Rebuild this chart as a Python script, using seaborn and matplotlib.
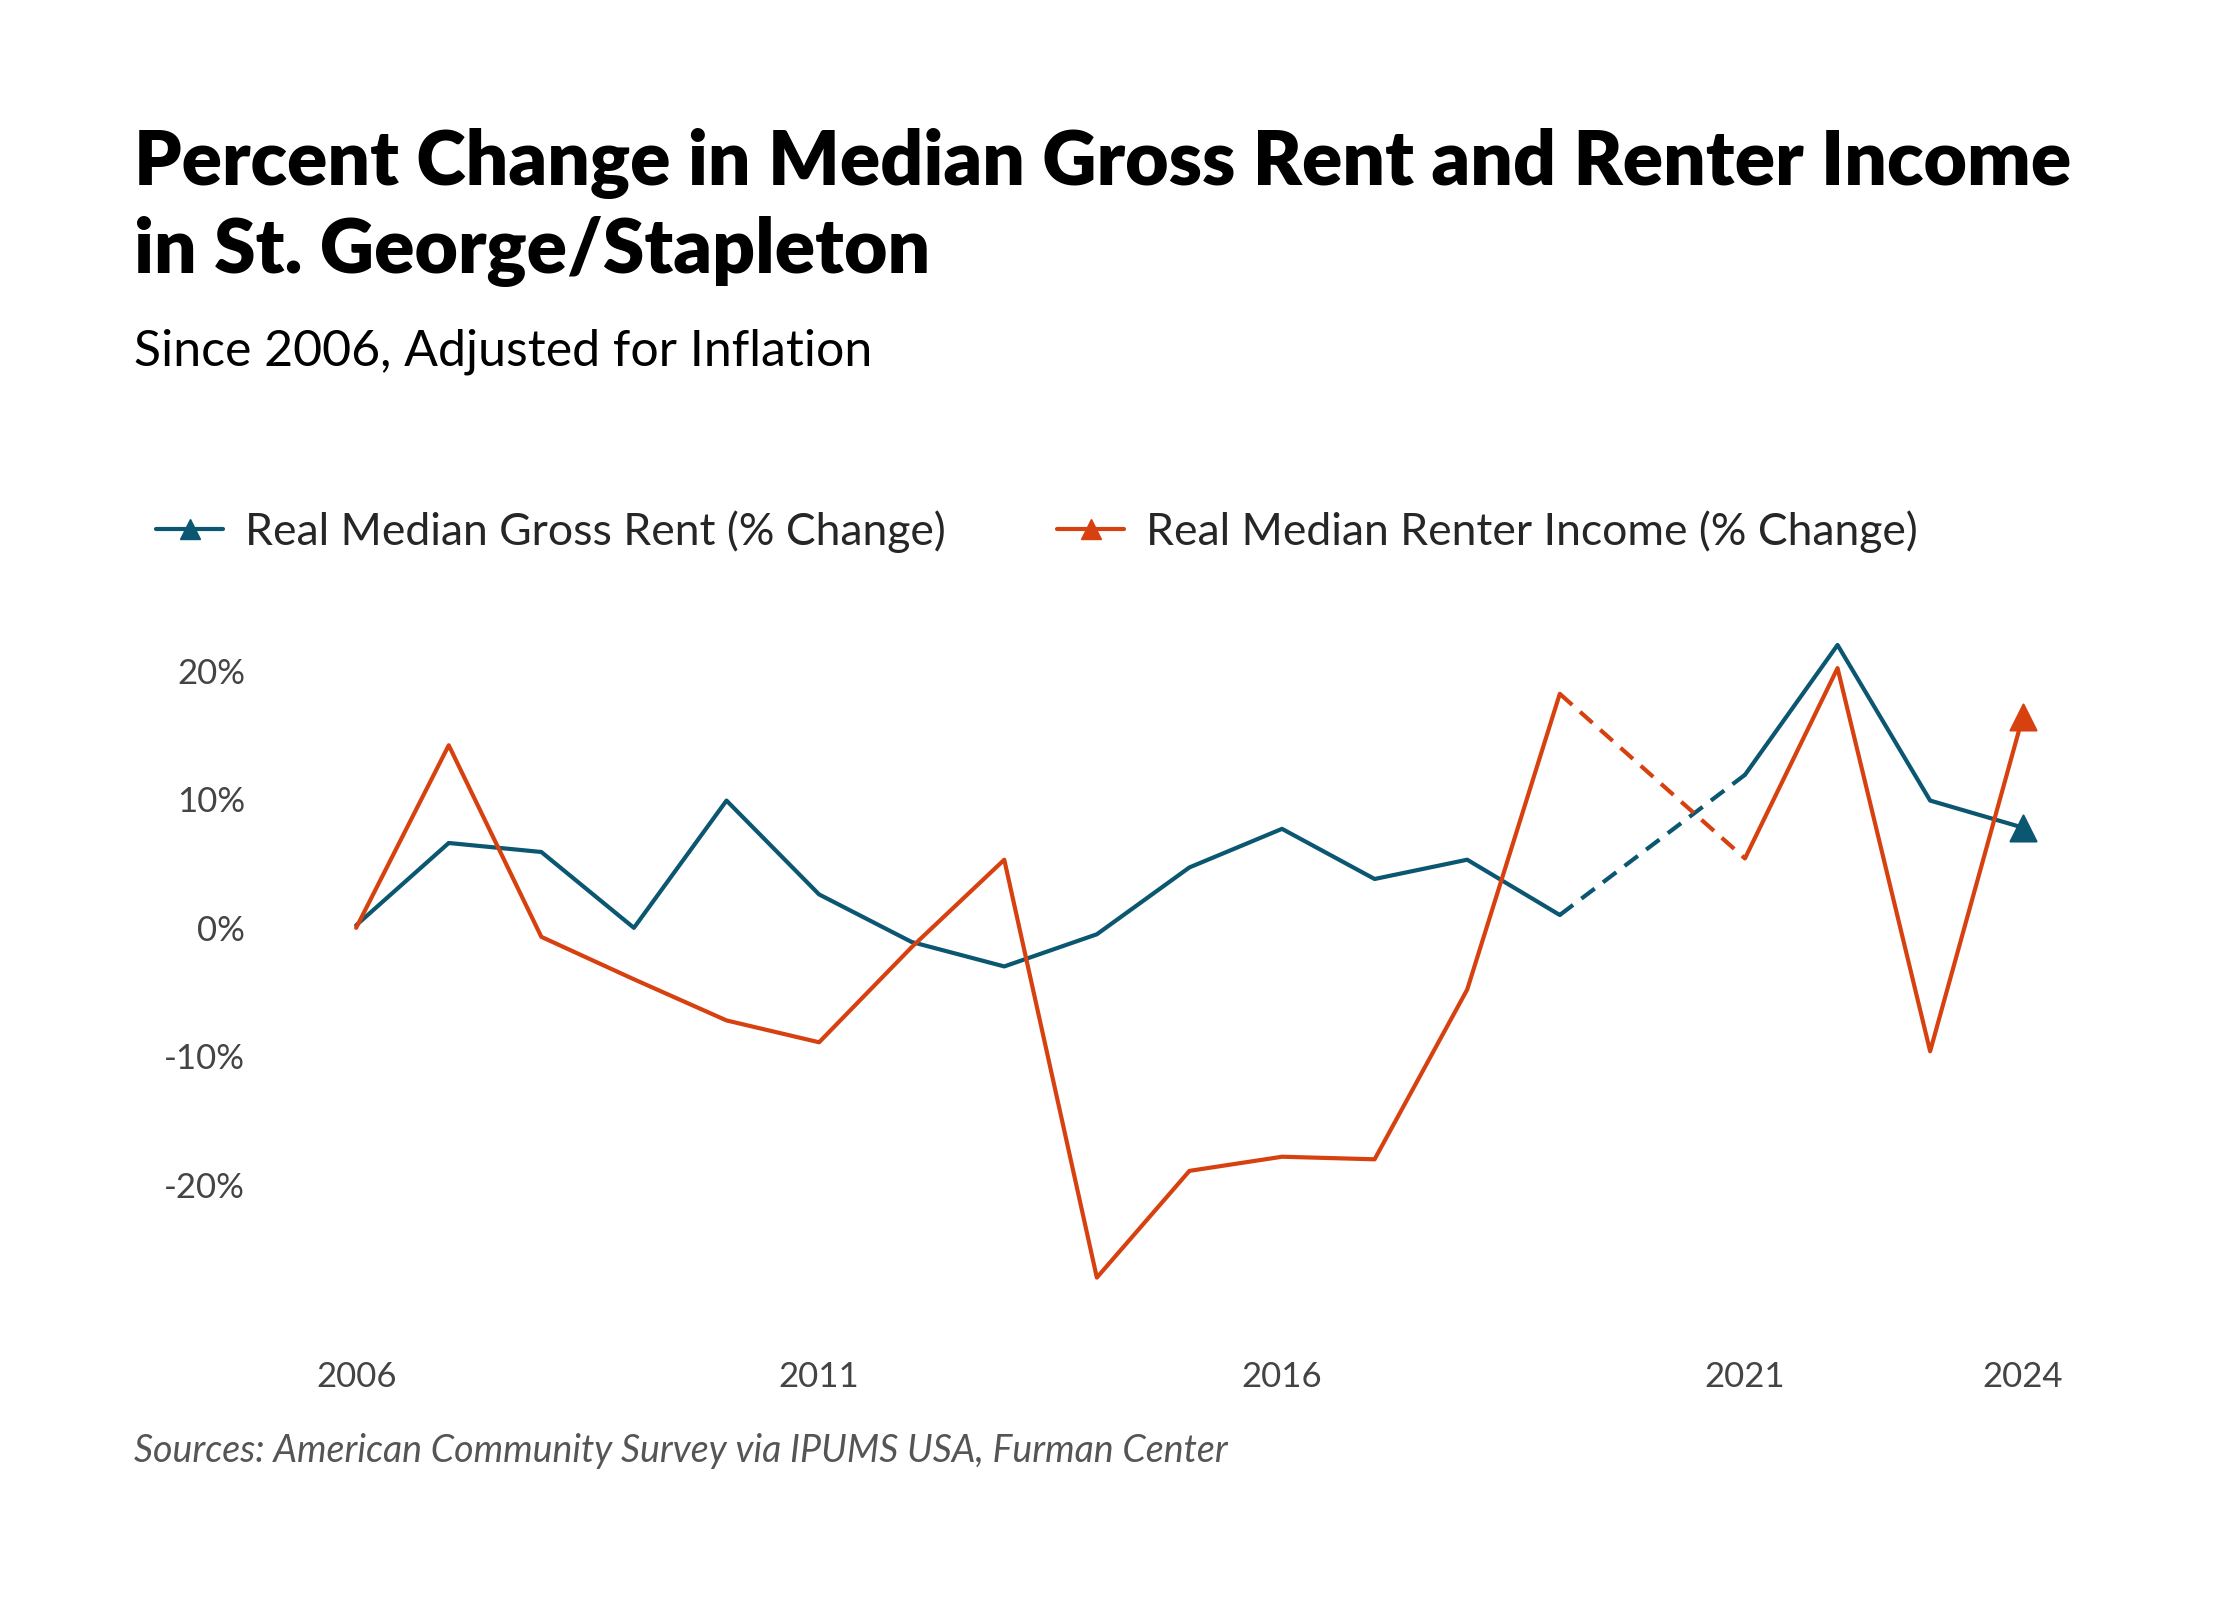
import matplotlib
matplotlib.use("Agg")
import matplotlib.pyplot as plt
import seaborn as sns
import pandas as pd
from matplotlib.lines import Line2D

years = [2006,2007,2008,2009,2010,2011,2012,2013,2014,2015,2016,2017,2018,2019,2021,2022,2023,2024]
rent = [0.2,6.6,5.9,0.0,9.9,2.6,-1.1,-3.0,-0.5,4.7,7.7,3.8,5.3,1.0,11.9,22.0,9.9,7.8]
income = [0.0,14.2,-0.7,-4.0,-7.2,-8.9,-1.5,5.3,-27.2,-18.9,-17.8,-18.0,-4.8,18.2,5.4,20.2,-9.6,16.4]
tick_years = [2006, 2011, 2016, 2021, 2024]
yticks = [-20, -10, 0, 10, 20]

BLUE = "#0b5670"
RED = "#d7410f"
sns.set_theme(style="white")
plt.rcParams['font.family'] = ['Lato', 'DejaVu Sans']

fig = plt.figure(figsize=(22.4, 16), dpi=100)
ax = fig.add_axes([0.159, 0.179, 0.744, 0.442])

df = pd.DataFrame({"year": years, "rent": rent, "income": income})
gap = 2019
for col, c in [("rent", BLUE), ("income", RED)]:
    solid1 = df[df.year <= gap]
    solid2 = df[df.year >= 2021]
    dashed = df[(df.year >= gap) & (df.year <= 2021)]
    sns.lineplot(data=solid1, x="year", y=col, color=c, lw=3, ax=ax)
    sns.lineplot(data=solid2, x="year", y=col, color=c, lw=3, ax=ax)
    sns.lineplot(data=dashed, x="year", y=col, color=c, lw=3, ls=(0, (4, 2.5)), ax=ax)
    last = df.iloc[[-1]]
    sns.scatterplot(data=last, x="year", y=col, color=c, marker="^", s=350, ax=ax, zorder=5, clip_on=False, edgecolor=c)

ax.set_xlim(2006, 2024)
ax.set_ylim(-30, 25)
sns.despine(ax=ax, left=True, bottom=True)
ax.set_xticks(tick_years)
ax.set_xticklabels([str(y) for y in tick_years], fontsize=25, color="#444444")
ax.set_yticks(yticks)
ax.set_yticklabels([f"{v}%" for v in yticks], fontsize=25, color="#444444")
ax.tick_params(axis="y", pad=80, length=0)
ax.tick_params(axis="x", pad=34, length=0)
ax.set_xlabel(""); ax.set_ylabel("")
for l in ax.get_lines():
    l.set_clip_on(False)

fig.text(0.06, 0.92, "Percent Change in Median Gross Rent and Renter Income\nin St. George/Stapleton",
         fontsize=54, fontweight="heavy", va="top", linespacing=1.3, color="black")
fig.text(0.06, 0.78, "Since 2006, Adjusted for Inflation", fontsize=36, va="center", color="black")
fig.text(0.06, 0.093, "Sources: American Community Survey via IPUMS USA, Furman Center",
         fontsize=27, style="italic", color="#555555", va="center")

handles = [Line2D([0], [0], color=BLUE, lw=3, marker="^", markersize=15),
           Line2D([0], [0], color=RED, lw=3, marker="^", markersize=15)]
fig.legend(handles, ["Real Median Gross Rent (% Change)", "Real Median Renter Income (% Change)"],
           loc="center left", bbox_to_anchor=(0.052, 0.668), ncol=2, frameon=False,
           fontsize=32, handlelength=1.5, columnspacing=2.5, handletextpad=0.5)

fig.savefig("out.png", dpi=100, facecolor="white")
